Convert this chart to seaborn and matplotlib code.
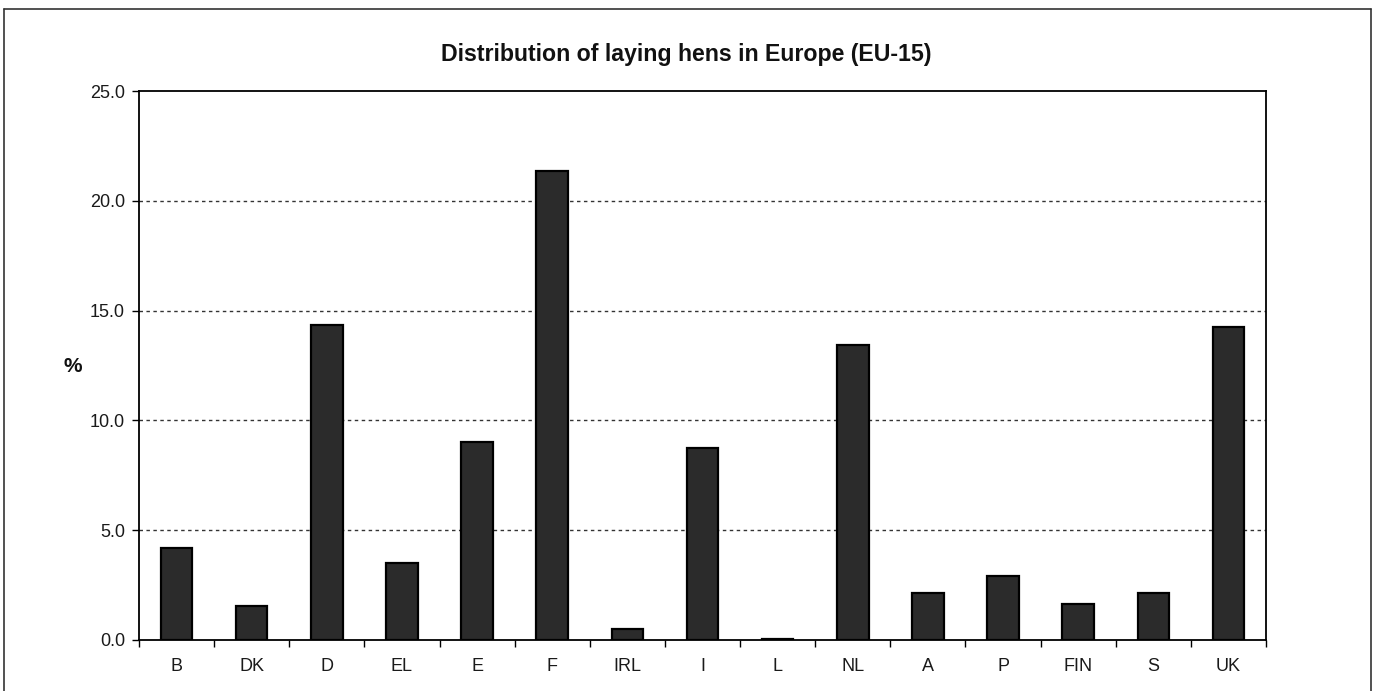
import matplotlib
matplotlib.use("Agg")
import matplotlib.pyplot as plt
import seaborn as sns
import pandas as pd
import numpy as np
from matplotlib.lines import Line2D

countries = ["B", "DK", "D", "EL", "E", "F", "IRL", "I", "L", "NL", "A", "P", "FIN", "S", "UK"]
shares = [4.2, 1.55, 14.35, 3.5, 9.0, 21.35, 0.5, 8.75, 0.05, 13.45, 2.15, 2.9, 1.65, 2.15, 14.25]
y_ticks = [0, 5, 10, 15, 20, 25]
title = "Distribution of laying hens in Europe (EU-15)"

sns.set_theme(style="white")
plt.rcParams['font.family'] = ['Liberation Sans', 'DejaVu Sans']

df = pd.DataFrame({"country": countries, "share": shares})

fig = plt.figure(figsize=(13.74, 6.91), dpi=100)
ax = fig.add_axes([139/1374, 51/691, (1266-139)/1374, (640-91)/691])

sns.barplot(data=df, x="country", y="share", ax=ax, color="#2b2b2b",
            edgecolor="black", linewidth=1.6, width=0.42, saturation=1)

ax.set_ylim(0, 25)
ax.set_xlim(-0.5, len(countries) - 0.5)
ax.set_yticks(y_ticks)
ax.set_yticklabels([f"{v:.1f}" for v in y_ticks], fontsize=13, color="#1a1a1a")
ax.set_xticks(range(len(countries)))
ax.set_xticklabels(countries, fontsize=13, color="#1a1a1a")
ax.set_xticks(np.arange(-0.5, len(countries)), minor=True)
ax.tick_params(axis="x", which="major", length=0, pad=13)
ax.tick_params(axis="x", which="minor", length=5, width=1, color="black", direction="out", bottom=True)
ax.tick_params(axis="y", which="major", length=5, width=1, color="black", direction="out", left=True, pad=5)
ax.set_xlabel("")
ax.set_ylabel("")

for v in y_ticks[1:-1]:
    ax.axhline(v, color="#333333", linewidth=1, linestyle=(0, (2.5, 2.5)), zorder=0)

for s in ax.spines.values():
    s.set_visible(True)
    s.set_color("black")
    s.set_linewidth(1.3)

fig.text(686/1374, 1 - 54/691, title, ha="center", va="center", fontsize=16.7, fontweight="bold", color="#111111")
fig.text(73/1374, 1 - 366/691, "%", ha="center", va="center", fontsize=15, fontweight="bold", color="#111111")

# outer frame
x0, x1 = 4/1374, 1371/1374
yt = 1 - 9/691
for xs, ys in [([x0, x1], [yt, yt]), ([x0, x0], [yt, 0]), ([x1, x1], [yt, 0])]:
    fig.add_artist(Line2D(xs, ys, color="#333333", linewidth=1.2, transform=fig.transFigure))

fig.savefig("out.png", dpi=100, facecolor="white")
